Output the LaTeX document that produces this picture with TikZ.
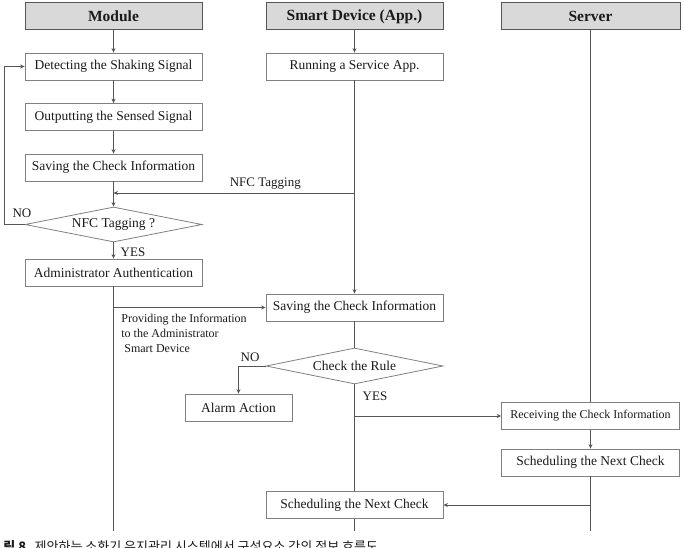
\documentclass[tikz,border=0pt]{standalone}
\usepackage{fontspec}
\setmainfont{Liberation Serif}
\newfontfamily\kofont{Noto Sans CJK KR}
\usetikzlibrary{shapes.geometric,arrows.meta}
\definecolor{hdrfill}{HTML}{D9D9D9}
\definecolor{linegray}{HTML}{555555}
\definecolor{boxgray}{HTML}{808080}
\definecolor{txt}{HTML}{1A1A1A}
\begin{document}
\begin{tikzpicture}[x=1pt,y=-1pt,>={Stealth[length=4.5pt,width=4pt]},
  color=linegray,line width=0.8pt,
  every node/.append style={text=txt},
  hdr/.style={draw=linegray,line width=1pt,fill=hdrfill,minimum width=177pt,minimum height=27pt,font=\fontsize{15.5}{17}\selectfont\bfseries},
  box/.style={draw=boxgray,fill=white,minimum width=177pt,minimum height=27pt,inner sep=1pt,font=\fontsize{13.5}{15}\selectfont},
  dec/.style={diamond,draw=boxgray,fill=white,aspect=5,inner sep=1pt,minimum width=177pt,minimum height=35pt,font=\fontsize{13.5}{15}\selectfont},
  lbl/.style={font=\fontsize{13}{15}\selectfont}]
\useasboundingbox (0,0) rectangle (685,548);
\node[hdr] (mod) at (113.5,16.5) {Module};
\node[hdr] (dev) at (354.5,16.5) {Smart Device (App.)};
\node[hdr,minimum width=179pt] (srv) at (590.5,16.5) {Server};
\node[box] (detect) at (113.5,66.5) {Detecting the Shaking Signal};
\node[box] (output) at (113.5,117) {Outputting the Sensed Signal};
\node[box] (msave) at (113.5,167.5) {Saving the Check Information};
\node[dec] (tagq) at (113.5,224.5) {NFC Tagging ?};
\node[box] (auth) at (113.5,272.5) {Administrator Authentication};
\node[box] (run) at (354.5,66.5) {Running a Service App.};
\node[box] (dsave) at (354.5,307.5) {Saving the Check Information};
\node[dec,minimum height=36pt] (rule) at (354.5,366) {Check the Rule};
\node[box,minimum width=107pt] (alarm) at (238.5,407.5) {Alarm Action};
\node[box,minimum width=178pt,font=\fontsize{12}{14}\selectfont] (recv) at (590.5,416) {Receiving the Check Information};
\node[box,minimum width=178pt] (ssched) at (590.5,462.5) {Scheduling the Next Check};
\node[box] (dsched) at (354.5,505) {Scheduling the Next Check};
\coordinate (nfcR) at (354.5,193);
\coordinate (nfcL) at (113.5,193);
\coordinate (end1) at (113.5,531);
\coordinate (end2) at (354.5,531);
\coordinate (end3) at (590.5,531);
\draw[->] (mod) -- (detect);
\draw[->] (detect) -- (output);
\draw[->] (output) -- (msave);
\draw[->] (msave) -- (tagq);
\draw[->] (tagq) -- (auth);
\draw (auth) -- (end1);
\draw[->] (tagq.west) -- ++(-20,0) |- (detect.west);
\draw[->] (dev) -- (run);
\draw[->] (run) -- (dsave);
\draw[->] (nfcR) -- (nfcL) node[lbl,pos=0.37,above] (nfclbl) {NFC Tagging};
\draw[->] (auth.south |- dsave.west) -- (dsave.west);
\draw (dsave) -- (rule);
\draw[->] (rule.west) -| (alarm.north);
\draw (rule) -- (dsched);
\draw (dsched) -- (end2);
\draw[->] (rule.south |- recv.west) -- (recv.west);
\draw (srv) -- (recv);
\draw[->] (recv) -- (ssched);
\draw (ssched) -- (end3);
\draw[->] (ssched.south |- dsched.east) -- (dsched.east);
\node[lbl] (no1) at (22,213) {NO};
\node[lbl,anchor=west] (yes1) at (117,252) {YES};
\node[lbl] (no2) at (250,357) {NO};
\node[lbl,anchor=west] (yes2) at (359,396) {YES};
\node[anchor=north west,align=left,inner sep=0pt,font=\fontsize{12}{15}\selectfont] (provide) at (121,314)
  {Providing the Information\\to the Administrator\\\hspace{3pt}Smart Device};
\node[anchor=base west,inner sep=0pt,font=\kofont\fontsize{13}{14}\selectfont] (cap) at (3,551)
  {\textbf{림 8.} 제안하는 소화기 유지관리 시스템에서 구성요소 간의 정보 흐름도};
\end{tikzpicture}
\end{document}
